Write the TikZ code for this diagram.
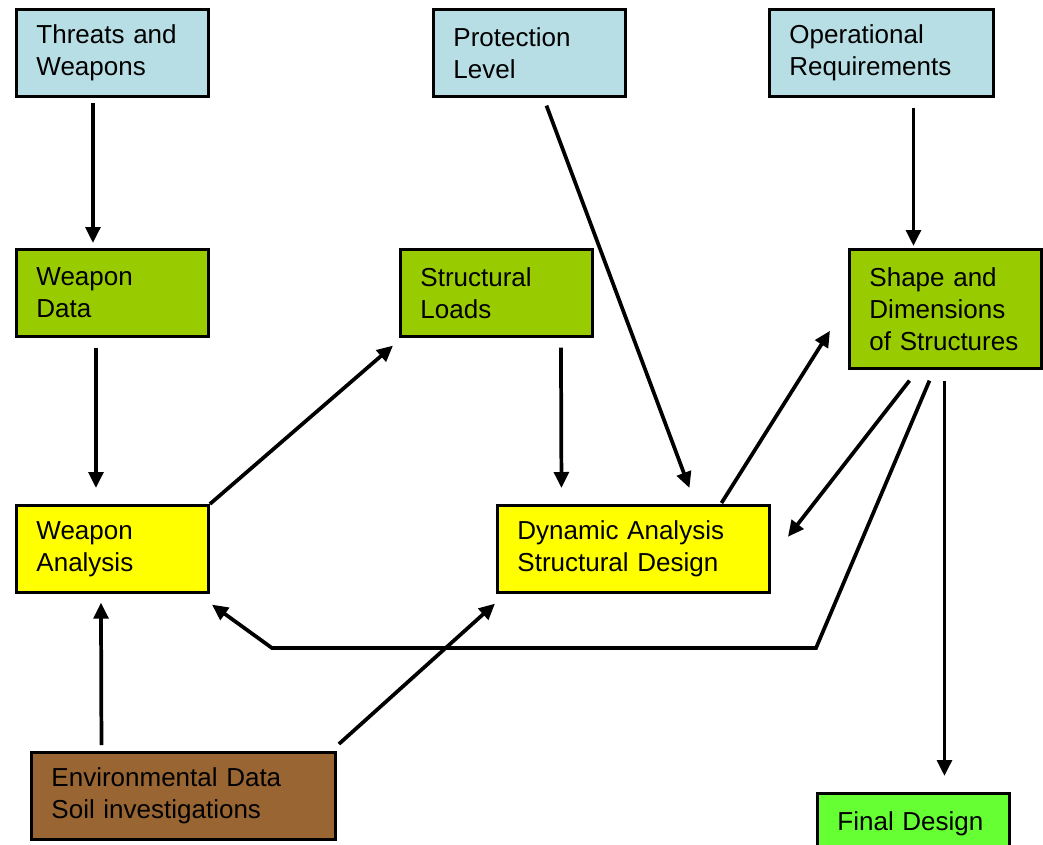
\documentclass[tikz,border=0pt]{standalone}
\usepackage{fontspec}
\setmainfont{Liberation Sans}
\usepackage{tikz}
\usetikzlibrary{arrows.meta,calc,positioning}
\definecolor{inputblue}{RGB}{183,222,228}
\definecolor{datagreen}{RGB}{153,204,0}
\definecolor{analysisyellow}{RGB}{255,255,0}
\definecolor{soilbrown}{RGB}{153,102,51}
\definecolor{finalgreen}{RGB}{102,255,51}
\tikzset{
  flowbox/.style={draw, rectangle, line width=2.2pt, anchor=north west, align=left,
    inner xsep=15pt, inner ysep=0pt, font=\fontsize{19.5}{24}\selectfont},
  inputbox/.style={flowbox, fill=inputblue},
  databox/.style={flowbox, fill=datagreen},
  analysisbox/.style={flowbox, fill=analysisyellow},
  flowarrow/.style={line width=2.8pt, -{Triangle[length=12pt,width=11pt]}}
}

\begin{document}
\begin{tikzpicture}[x=0.75pt, y=-0.75pt]
  \useasboundingbox (0,0) rectangle (1043,844);

  \node[inputbox, text width=114pt, minimum height=65pt] (threats) at (15,8) {Threats and\\Weapons};
  \node[inputbox, text width=114pt, minimum height=65pt] (protect) at (432,8) {Protection\\Level};
  \node[inputbox, text width=138pt, minimum height=65pt] (operate) at (768,8) {Operational\\Requirements};

  \node[databox, text width=114pt, minimum height=65pt] (wdata) at (15,248) {Weapon\\Data};
  \node[databox, text width=114pt, minimum height=65pt] (loads) at (399,248) {Structural\\Loads};
  \node[databox, text width=114pt, minimum height=89pt] (shape) at (848,248) {Shape and\\Dimensions\\of Structures};

  \node[analysisbox, text width=114pt, minimum height=65pt] (wanalysis) at (15,504) {Weapon\\Analysis};
  \node[analysisbox, text width=174pt, minimum height=65pt] (dynamic) at (496,504) {Dynamic Analysis\\Structural Design};

  \node[flowbox, fill=soilbrown, text width=198pt, minimum height=65pt] (soil) at (30,751) {Environmental Data\\Soil investigations};
  \node[flowbox, fill=finalgreen, text width=114pt, minimum height=45pt] (final) at (816,792) {Final Design};

  \coordinate (turnR) at (816,648);
  \coordinate (turnL) at (272,648);

  \draw[flowarrow] ($(threats.south)+(-19.5,5)$) -- ($(wdata.north)+(-19.5,-5)$);
  \draw[flowarrow] ($(wdata.south)+(-16.5,10)$) -- ($(wanalysis.north)+(-16.5,-16)$);
  \draw[flowarrow] (wanalysis.north east) -- ($(loads.south west)+(-6,8)$);
  \draw[flowarrow] ($(loads.south)+(64.5,10)$) -- ($(dynamic.north)+(-72,-16)$);
  \draw[flowarrow] ($(protect.south)+(17,8)$) -- ($(dynamic.north)+(56,-16)$);
  \draw[flowarrow] ($(operate.south)+(32,10)$) -- ($(shape.north)+(-32,-2)$);
  \draw[flowarrow] ($(dynamic.north)+(88,-1)$) -- ($(shape.west)+(-18,22)$);
  \draw[flowarrow] ($(shape.south)+(-36,11)$) -- ($(dynamic.east)+(17,-12)$);
  \draw[flowarrow] ($(shape.south)+(-16,11)$) -- (turnR) -- (turnL) -- ($(wanalysis.south east)+(2,11)$);
  \draw[flowarrow] ($(shape.south)+(-1,11)$) -- ($(final.north)+(31,-16)$);
  \draw[flowarrow] ($(soil.north)+(-82,-6)$) -- ($(wanalysis.south)+(-11.5,9)$);
  \draw[flowarrow] ($(soil.north east)+(2,-7)$) -- ($(dynamic.south west)+(-1,10)$);
\end{tikzpicture}
\end{document}
